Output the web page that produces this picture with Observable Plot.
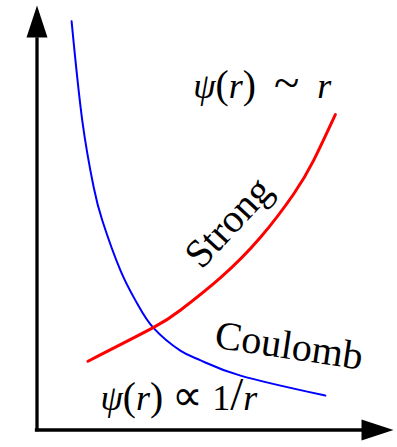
<!DOCTYPE html>
<html>
<head>
<meta charset="utf-8">
<script src="https://cdn.jsdelivr.net/npm/d3@7"></script>
<script src="https://cdn.jsdelivr.net/npm/@observablehq/plot@0.6"></script>
<style>
  body { margin: 0; background: #fff; }
  svg { display: block; }
</style>
</head>
<body>
<div id="chart"></div>
<script>
// Coulomb branch: ψ(r) ∝ 1/r (arbitrary units)
const coulombR   = [0.97, 1.27, 1.59, 1.83, 2.34, 2.81, 3.26, 4.02, 4.59, 5.71, 8.09];
const coulombPsi = [9.63, 7.29, 5.72, 4.94, 3.76, 2.98, 2.41, 1.87, 1.64, 1.28, 0.81];

// Strong branch: ψ(r) ~ r, rising steeply at large r
const strongR   = [1.43, 3.26, 4.02, 5.15, 6.27, 7.20, 7.76, 8.37];
const strongPsi = [1.62, 2.41, 2.82, 3.59, 4.54, 5.56, 6.35, 7.43];

// Annotations, anchored in data units
const mathText = ["ψ(r)\u2002~\u2002r", "ψ(r) ∝ 1/r"];
const mathR    = [6.32, 3.98];
const mathPsi  = [8.09, 0.74];

const curveNames = ["Strong", "Coulomb"];
const curveNameR   = [5.37, 7.07];
const curveNamePsi = [4.89, 1.98];

// Axis extent
const rMax = 10;
const psiMax = 10;

const coulomb = coulombR.map((r, i) => ({r, psi: coulombPsi[i]}));
const strong = strongR.map((r, i) => ({r, psi: strongPsi[i]}));
const math = mathText.map((t, i) => ({t, r: mathR[i], psi: mathPsi[i]}));
const names = curveNames.map((t, i) => ({t, r: curveNameR[i], psi: curveNamePsi[i]}));

// Filled arrowhead pointing along +x, tip at the symbol origin
const arrowHead = {
  draw(context) {
    context.moveTo(0, 0);
    context.lineTo(-32, -10.5);
    context.lineTo(-32, 10.5);
    context.closePath();
  }
};

const serif = "'Liberation Serif', 'Times New Roman', serif";

const chart = Plot.plot({
  width: 397,
  height: 447,
  marginLeft: 36.5,
  marginRight: 4,
  marginTop: 5,
  marginBottom: 17.5,
  x: {domain: [0, rMax], axis: null},
  y: {domain: [0, psiMax], axis: null},
  style: {fontFamily: serif, background: "#fff"},
  marks: [
    // axes
    Plot.ruleY([0], {x1: 0, x2: rMax * 0.91, stroke: "black", strokeWidth: 3.3, strokeLinecap: "square"}),
    Plot.ruleX([0], {y1: 0, y2: psiMax * 0.92, stroke: "black", strokeWidth: 3.3, strokeLinecap: "square"}),
    Plot.dot([{r: rMax, psi: 0}], {x: "r", y: "psi", symbol: arrowHead, fill: "black", stroke: null}),
    Plot.dot([{r: 0, psi: psiMax}], {x: "r", y: "psi", symbol: arrowHead, rotate: -90, fill: "black", stroke: null}),
    // curves
    Plot.line(coulomb, {x: "r", y: "psi", curve: "natural", stroke: "#0000ff", strokeWidth: 2}),
    Plot.line(strong, {x: "r", y: "psi", curve: "natural", stroke: "#ff0000", strokeWidth: 3}),
    // labels
    Plot.text(math, {x: "r", y: "psi", text: "t", fontSize: 36, fill: "black"}),
    Plot.text(names.slice(0, 1), {x: "r", y: "psi", text: "t", fontSize: 40, rotate: -47, fill: "black"}),
    Plot.text(names.slice(1), {x: "r", y: "psi", text: "t", fontSize: 40, rotate: 8.5, fill: "black"})
  ]
});

// Set ψ and r in italics, as in typeset math
d3.select(chart).selectAll("text").each(function () {
  const s = this.textContent;
  if (!s.includes("ψ")) return;
  const t = d3.select(this);
  t.text(null);
  for (const ch of s) {
    const span = t.append("tspan").text(ch);
    if (ch === "ψ" || ch === "r") span.attr("font-style", "italic");
    if (ch === "(" || ch === ")") span.attr("font-size", "1.1em");
    if (ch === "/") span.attr("font-size", "1.3em");
    if (ch === "~") span.attr("font-size", "1.3em");
    if (ch === "∝") span.attr("font-size", "1.2em");
  }
});

document.getElementById("chart").append(chart);
</script>
</body>
</html>
